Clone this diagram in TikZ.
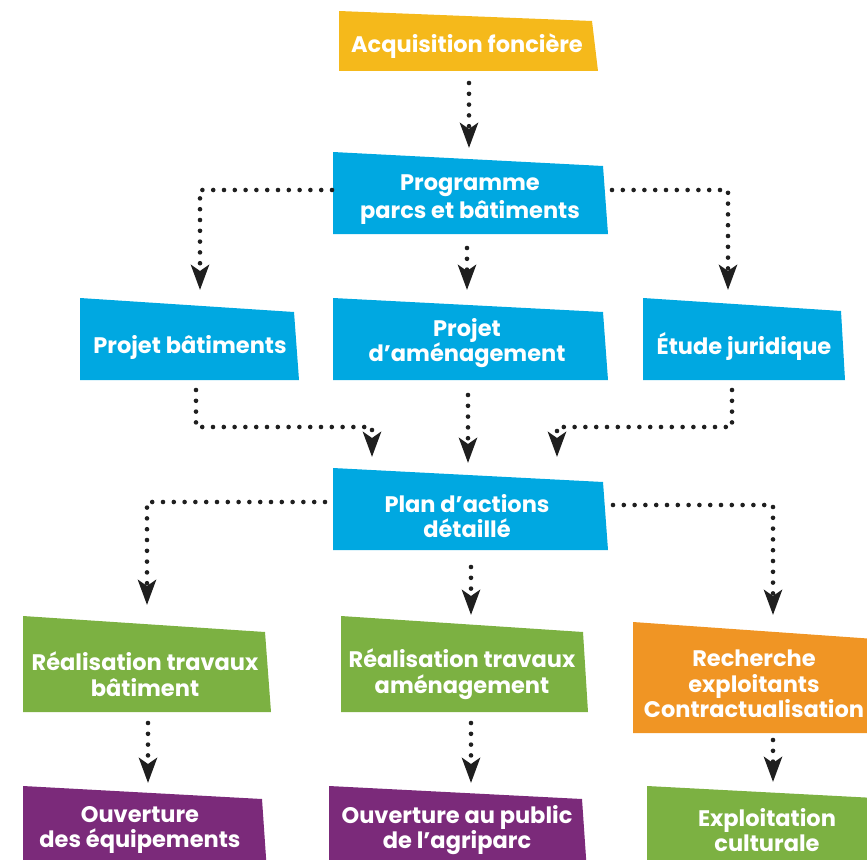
\documentclass[tikz,border=0pt]{standalone}
\usepackage{fontspec}
\setmainfont{Poppins}
\usetikzlibrary{calc,arrows.meta}
\definecolor{cyel}{HTML}{F5B91B}
\definecolor{cblue}{HTML}{00A8E1}
\definecolor{cgreen}{HTML}{7CB142}
\definecolor{corange}{HTML}{F09524}
\definecolor{cpurple}{HTML}{7B2A7A}
\tikzset{
  area/.style={rectangle, inner sep=0pt, outer sep=0pt},
  lbl/.style={text=white, align=center, inner sep=0pt, font=\bfseries\fontsize{22.5}{25.5}\selectfont},
  conn/.style={line width=4.6pt, line cap=round, dash pattern=on 0pt off 10.8pt,
    color=black!88, -{Stealth[length=25pt,width=18pt,inset=6pt]}},
}
% \boxarea{name}{left}{right}{topY}{bottomY}
\newcommand\boxarea[5]{%
  \node[area, anchor=south west, minimum width={(#3-#2)*1pt}, minimum height={(#5-#4)*1pt}] (#1) at (#2,#5) {};}
% \boxfill{name}{colour}{dx}{dy}
\newcommand\boxfill[4]{%
  \fill[#2] (#1.south west) -- (#1.north west) -- ($(#1.north east)+(#3,#4)$) -- (#1.south east) -- cycle;}
\begin{document}
\begin{tikzpicture}[x=1pt,y=-1pt]
\useasboundingbox (0,0) rectangle (867,859);
% areas
\boxarea{acq}{339}{598}{11}{71}
\boxarea{prog}{333}{608}{152}{234}
\boxarea{pb}{80}{299}{298}{380}
\boxarea{pa}{333}{608}{298}{380}
\boxarea{ej}{643}{845}{298}{380}
\boxarea{plan}{333}{608}{468}{550}
\boxarea{rb}{23}{271}{616}{712}
\boxarea{ra}{341}{588}{616}{712}
\boxarea{rc}{633}{880}{622}{733}
\boxarea{oe}{23}{267}{786}{872}
\boxarea{op}{329}{587}{786}{872}
\boxarea{ec}{647}{880}{786}{872}
% fills
\boxfill{acq}{cyel}{-6}{10}
\boxfill{prog}{cblue}{-5}{14}
\boxfill{pb}{cblue}{-5}{14}
\boxfill{pa}{cblue}{-5}{14}
\boxfill{ej}{cblue}{-4}{13}
\boxfill{plan}{cblue}{-5}{14}
\boxfill{rb}{cgreen}{-6}{16}
\boxfill{ra}{cgreen}{-5}{16}
\boxfill{rc}{corange}{-5}{17}
\boxfill{oe}{cpurple}{-5}{13}
\boxfill{op}{cpurple}{-5}{13}
\boxfill{ec}{cgreen}{-5}{12}
% texts
\node[lbl] (acqT) at (467,46) {Acquisition foncière};
\node[lbl, font=\bfseries\fontsize{22.5}{28}\selectfont] (progT) at (470,200) {Programme\\parcs et bâtiments};
\node[lbl] (pbT) at (190,347) {Projet bâtiments};
\node[lbl] (paT) at (467,343) {Projet\\d’aménagement};
\node[lbl] (ejT) at (744,347) {Étude juridique};
\node[lbl] (planT) at (467,516) {Plan d’actions\\détaillé};
\node[lbl] (rbT) at (145,674) {Réalisation travaux\\bâtiment};
\node[lbl] (raT) at (462,674) {Réalisation travaux\\aménagement};
\node[lbl] (rcT) at (754,684) {Recherche\\exploitants\\Contractualisation};
\node[lbl] (oeT) at (140,830) {Ouverture\\des équipements};
\node[lbl] (opT) at (457,830) {Ouverture au public\\de l’agriparc};
\node[lbl] (ecT) at (767,830) {Exploitation\\culturale};
% connectors
\draw[conn] ($(acq.south)+(0.5,12)$) -- ($(acq.south |- prog.north)+(0.5,-4)$);
\draw[conn] ($(prog.west)+(-1,-3)$) -| ($(pb.north)+(10.5,-8)$);
\draw[conn] ($(prog.east)+(4,-3)$) -| ($(ej.north)+(-16,-8)$);
\draw[conn] ($(prog.south)+(-3.5,14)$) -- ($(prog.south |- pa.north)+(-3.5,-8)$);
\draw[conn] ($(pb.south)+(6.5,10)$) |- ($(plan.north)+(-98.5,-41)$) -- ($(plan.north)+(-98.5,-11)$);
\draw[conn] ($(pa.south)+(-2.5,15)$) -- ($(pa.south |- plan.north)+(-2.5,-5)$);
\draw[conn] ($(ej.south)+(-12,10)$) |- ($(plan.north)+(86.5,-41)$) -- ($(plan.north)+(86.5,-11)$);
\draw[conn] ($(plan.west)+(-8,-7)$) -| ($(rb.north)+(0,-11)$);
\draw[conn] ($(plan.south)+(0.5,17)$) -- ($(plan.south |- ra.north)+(0.5,-1)$);
\draw[conn] ($(plan.east)+(5,-4)$) -| ($(rc.north)+(16.5,-7)$);
\draw[conn] ($(rb.south)+(1,11)$) -- ($(rb.south |- oe.north)+(1,-3)$);
\draw[conn] ($(ra.south)+(6.5,11)$) -- ($(ra.south |- op.north)+(6.5,-3)$);
\draw[conn] ($(rc.south)+(16.5,7)$) -- ($(rc.south |- ec.north)+(16.5,-4)$);
\end{tikzpicture}
\end{document}
